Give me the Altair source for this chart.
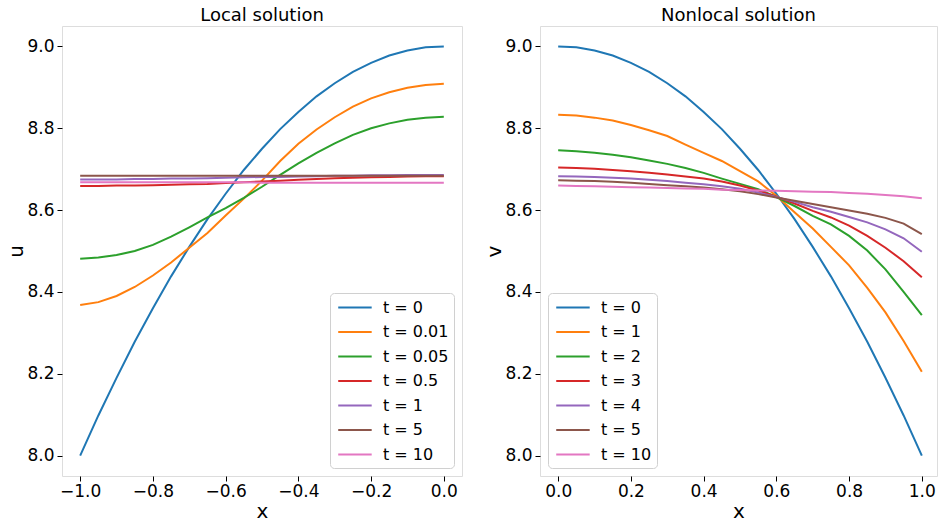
import altair as alt
import pandas as pd

# ---------------- data ----------------
x_local = [-1.0, -0.95, -0.9, -0.85, -0.8, -0.75, -0.7, -0.65, -0.6, -0.55, -0.5,
           -0.45, -0.4, -0.35, -0.3, -0.25, -0.2, -0.15, -0.1, -0.05, 0.0]
x_nonlocal = [0.0, 0.05, 0.1, 0.15, 0.2, 0.25, 0.3, 0.35, 0.4, 0.45, 0.5,
              0.55, 0.6, 0.65, 0.7, 0.75, 0.8, 0.85, 0.9, 0.95, 1.0]

local_labels = ["t = 0", "t = 0.01", "t = 0.05", "t = 0.5", "t = 1", "t = 5", "t = 10"]
nonlocal_labels = ["t = 0", "t = 1", "t = 2", "t = 3", "t = 4", "t = 5", "t = 10"]

u_t0 = [8.000, 8.098, 8.190, 8.278, 8.360, 8.438, 8.510, 8.578, 8.640, 8.698, 8.750,
        8.798, 8.840, 8.878, 8.910, 8.938, 8.960, 8.978, 8.990, 8.998, 9.000]
u_t001 = [8.368, 8.375, 8.390, 8.412, 8.440, 8.472, 8.508, 8.544, 8.587, 8.628, 8.672,
          8.720, 8.762, 8.797, 8.827, 8.853, 8.873, 8.888, 8.899, 8.906, 8.909]
u_t005 = [8.481, 8.484, 8.490, 8.500, 8.515, 8.535, 8.558, 8.582, 8.605, 8.630, 8.657,
          8.686, 8.714, 8.740, 8.763, 8.784, 8.800, 8.812, 8.821, 8.826, 8.828]
u_t05 = [8.659, 8.659, 8.660, 8.660, 8.661, 8.662, 8.663, 8.664, 8.666, 8.668, 8.670,
         8.672, 8.674, 8.676, 8.678, 8.679, 8.680, 8.681, 8.682, 8.683, 8.683]
u_t1 = [8.675, 8.675, 8.675, 8.676, 8.676, 8.677, 8.677, 8.678, 8.679, 8.680, 8.681,
        8.681, 8.682, 8.683, 8.684, 8.684, 8.685, 8.685, 8.686, 8.686, 8.686]
u_t5 = [8.684, 8.684, 8.684, 8.684, 8.684, 8.684, 8.684, 8.684, 8.684, 8.684, 8.684,
        8.684, 8.684, 8.684, 8.684, 8.684, 8.684, 8.684, 8.684, 8.684, 8.684]
u_t10 = [8.668, 8.668, 8.668, 8.668, 8.668, 8.668, 8.668, 8.668, 8.668, 8.668, 8.667,
         8.667, 8.667, 8.667, 8.667, 8.667, 8.667, 8.667, 8.667, 8.667, 8.667]

v_t0 = [9.000, 8.998, 8.990, 8.978, 8.960, 8.938, 8.910, 8.878, 8.840, 8.798, 8.750,
        8.698, 8.640, 8.578, 8.510, 8.438, 8.360, 8.278, 8.190, 8.098, 8.000]
v_t1 = [8.833, 8.831, 8.826, 8.819, 8.808, 8.795, 8.781, 8.760, 8.740, 8.720, 8.695,
        8.670, 8.635, 8.595, 8.555, 8.510, 8.465, 8.410, 8.350, 8.280, 8.205]
v_t2 = [8.746, 8.744, 8.740, 8.735, 8.729, 8.721, 8.713, 8.703, 8.691, 8.677, 8.664,
        8.651, 8.632, 8.610, 8.586, 8.565, 8.537, 8.501, 8.455, 8.400, 8.343]
v_t3 = [8.704, 8.703, 8.701, 8.698, 8.695, 8.691, 8.687, 8.682, 8.677, 8.670, 8.660,
        8.648, 8.633, 8.616, 8.598, 8.582, 8.562, 8.537, 8.508, 8.475, 8.436]
v_t4 = [8.683, 8.682, 8.681, 8.679, 8.677, 8.674, 8.671, 8.667, 8.663, 8.658, 8.652,
        8.643, 8.632, 8.620, 8.607, 8.596, 8.583, 8.570, 8.553, 8.531, 8.498]
v_t5 = [8.673, 8.672, 8.671, 8.669, 8.667, 8.664, 8.661, 8.658, 8.655, 8.651, 8.646,
        8.639, 8.631, 8.623, 8.615, 8.607, 8.599, 8.591, 8.581, 8.567, 8.541]
v_t10 = [8.660, 8.659, 8.658, 8.657, 8.656, 8.655, 8.654, 8.653, 8.652, 8.650, 8.649,
         8.648, 8.647, 8.646, 8.645, 8.644, 8.642, 8.640, 8.637, 8.634, 8.629]

colors = ["#1f77b4", "#ff7f0e", "#2ca02c", "#d62728", "#9467bd", "#8c564b", "#e377c2"]

x_ticks_local = [-1.0, -0.8, -0.6, -0.4, -0.2, 0.0]
x_ticks_nonlocal = [0.0, 0.2, 0.4, 0.6, 0.8, 1.0]
y_ticks = [8.0, 8.2, 8.4, 8.6, 8.8, 9.0]

# ---------------- build tables ----------------
def long_table(xs, labels, series):
    rows = []
    for k, (lab, vals) in enumerate(zip(labels, series)):
        for xv, yv in zip(xs, vals):
            rows.append({"x": xv, "y": yv, "t": lab, "k": k})
    return pd.DataFrame(rows)

df_local = long_table(x_local, local_labels,
                      [u_t0, u_t001, u_t005, u_t05, u_t1, u_t5, u_t10])
df_nonlocal = long_table(x_nonlocal, nonlocal_labels,
                         [v_t0, v_t1, v_t2, v_t3, v_t4, v_t5, v_t10])

FONT = "DejaVu Sans"
PLOT_H = 450


def panel(df, labels, xdom, xt, ylab, title, legend_orient, width):
    legend = alt.Legend(
        title=None, orient=legend_orient, offset=8,
        symbolType="M-0.75,0H3.25", symbolSize=280, symbolStrokeWidth=2,
        labelFontSize=16, labelFont=FONT, labelColor="black",
        labelOffset=29, padding=5, rowPadding=6.5,
        fillColor="rgba(255,255,255,0.8)", strokeColor="#d0d0d0",
        cornerRadius=4,
    )
    return alt.Chart(df).mark_line(strokeWidth=2, clip=True).encode(
        x=alt.X("x:Q", scale=alt.Scale(domain=xdom, nice=False, zero=False),
                axis=alt.Axis(values=xt, format=".1f", title="x",
                              titleFontSize=20, titleFont=FONT,
                              titleFontWeight="normal", titleColor="black",
                              titleBaseline="alphabetic", titleY=41,
                              labelFontSize=17, labelFont=FONT, labelColor="black",
                              tickSize=5, tickColor="black", labelPadding=2,
                              domain=False, grid=False)),
        y=alt.Y("y:Q", scale=alt.Scale(domain=[7.95, 9.05], nice=False, zero=False),
                axis=alt.Axis(values=y_ticks, format=".1f", title=ylab,
                              titleFontSize=20, titleFont=FONT,
                              titleFontWeight="normal", titleColor="black",
                              titleBaseline="alphabetic", titleX=-40,
                              titleY=PLOT_H / 2,
                              labelFontSize=17, labelFont=FONT, labelColor="black",
                              tickSize=5, tickColor="black", labelPadding=3,
                              domain=False, grid=False)),
        color=alt.Color("t:N", sort=labels,
                        scale=alt.Scale(domain=labels, range=colors),
                        legend=legend),
        order=alt.Order("k:Q"),
    ).properties(
        width=width, height=PLOT_H,
        title=alt.TitleParams(title, fontSize=18, font=FONT, fontWeight="normal",
                              color="black", offset=1),
    )


left = panel(df_local, local_labels, [-1.05, 0.05], x_ticks_local, "u",
             "Local solution", "bottom-right", 400)
right = panel(df_nonlocal, nonlocal_labels, [-0.05, 1.04175], x_ticks_nonlocal, "v",
              "Nonlocal solution", "bottom-left", 397)

chart = alt.hconcat(left, right, spacing=20).resolve_scale(
    color="independent"
).configure_view(
    stroke="#333333", strokeWidth=1
).configure(
    padding={"left": 5, "top": 6, "right": 0, "bottom": 0}
)

chart.save("out.html", embed_options={"renderer": "svg", "actions": False})
